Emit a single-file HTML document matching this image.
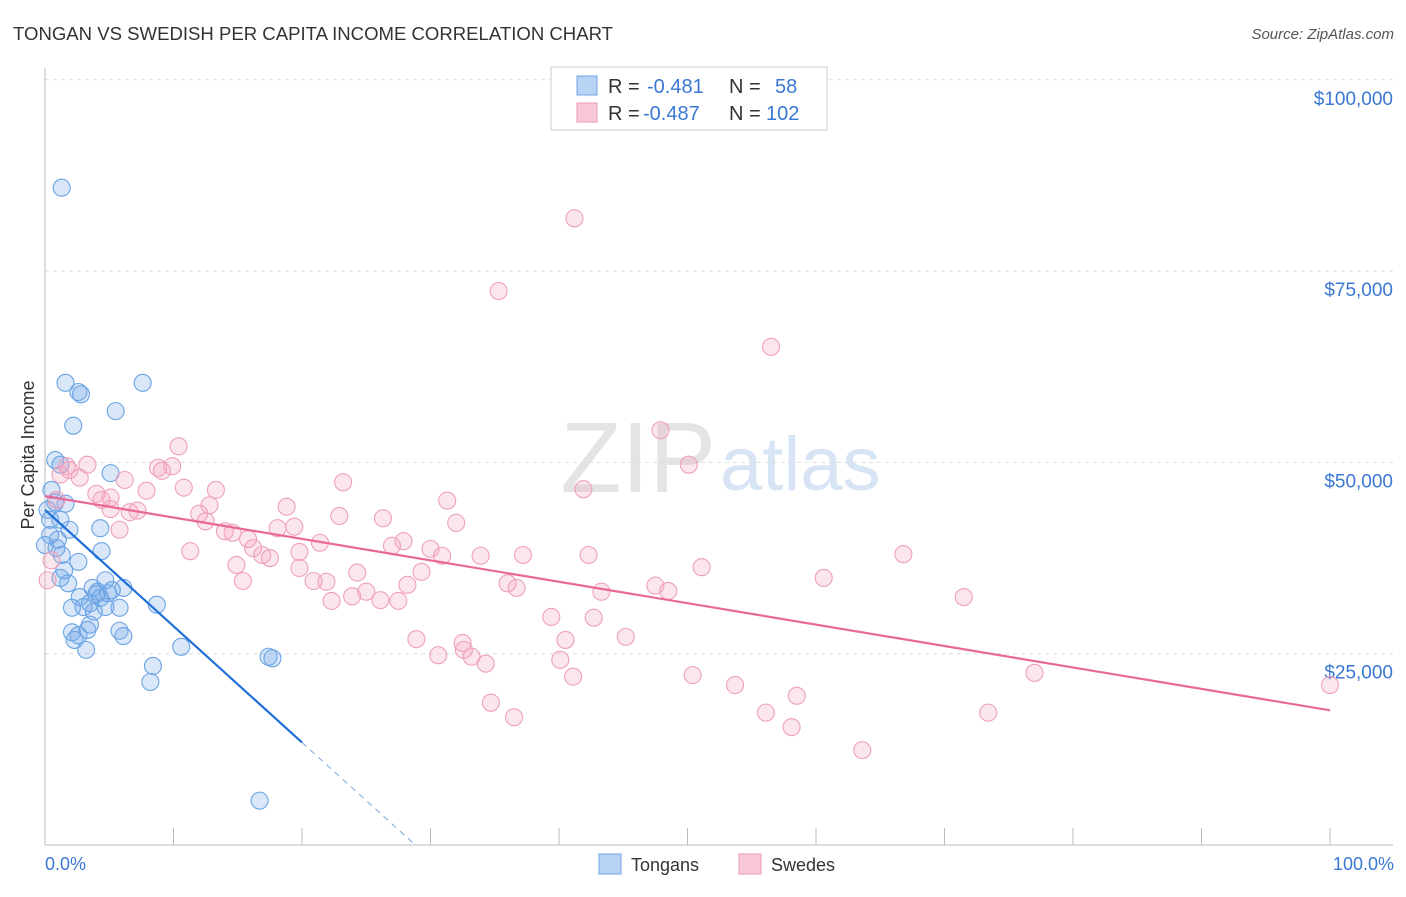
<!DOCTYPE html>
<html><head><meta charset="utf-8">
<style>
body{margin:0;background:#fff;font-family:"Liberation Sans",sans-serif;}
svg text{font-family:"Liberation Sans",sans-serif;}
</style></head>
<body>
<svg id="chart" width="1406" height="892" xmlns="http://www.w3.org/2000/svg">
<text x="13" y="40" font-size="18" fill="#333" textLength="600" lengthAdjust="spacingAndGlyphs">TONGAN VS SWEDISH PER CAPITA INCOME CORRELATION CHART</text>
<text x="1394" y="39" font-size="15" fill="#555" font-style="italic" text-anchor="end">Source: ZipAtlas.com</text>
<text x="716" y="492" font-size="100" fill="#e4e4e4" text-anchor="end" font-family="Liberation Serif">ZIP</text>
<text x="720" y="490" font-size="76" fill="#d6e4f4">atlas</text>
<g id="grid"></g>
<g id="axes"></g>
<g id="pts"></g>
<g id="lines"></g>
<text transform="translate(34,455) rotate(-90)" font-size="18" fill="#333" text-anchor="middle">Per Capita Income</text>
<text x="45" y="870" font-size="18" fill="#3a78d4">0.0%</text>
<text x="1394" y="870" font-size="18" fill="#3a78d4" text-anchor="end">100.0%</text>
<g>
<rect x="551" y="67" width="276" height="63" fill="#fff" stroke="#ccc"/>
<rect x="577" y="76" width="20" height="19" fill="#b8d3f4" stroke="#6fa3e4"/>
<rect x="577" y="103" width="20" height="19" fill="#f9c8d6" stroke="#eb9ab4"/>
<text x="608" y="93" font-size="20" fill="#333">R = </text><text x="647" y="93" font-size="20" fill="#3a78d4">-0.481</text>
<text x="729" y="93" font-size="20" fill="#333">N = </text><text x="775" y="93" font-size="20" fill="#3a78d4">58</text>
<text x="608" y="120" font-size="20" fill="#333">R = </text><text x="643" y="120" font-size="20" fill="#3a78d4">-0.487</text>
<text x="729" y="120" font-size="20" fill="#333">N = </text><text x="766" y="120" font-size="20" fill="#3a78d4">102</text>
</g>
<g>
<rect x="599" y="854" width="22" height="20" fill="#b8d3f4" stroke="#6fa3e4"/>
<text x="631" y="871" font-size="18" fill="#333">Tongans</text>
<rect x="739" y="854" width="22" height="20" fill="#f9c8d6" stroke="#eb9ab4"/>
<text x="771" y="871" font-size="18" fill="#333">Swedes</text>
</g>
</svg>
<script>
const yTicks=[25,50,75,100];
const yTickLabels=["$25,000","$50,000","$75,000","$100,000"];
const blueX=[1.3,1.6,2.6,2.8,7.6,5.5,2.2,5.1,1.2,4.3,0.5,0.2,0.8,1.6,1.2,0.4,1.0,1.9,0.9,4.4,2.6,1.5,1.2,1.8,2.7,3.7,4.3,4.7,6.1,2.1,3.0,3.8,3.5,5.8,8.7,4.1,2.1,2.6,3.3,5.8,6.1,3.2,10.6,8.4,8.2,17.4,17.7,16.7,0.8,0.4,1.3,0.0,4.0,4.7,3.5,2.3,4.9,5.2];
const blueY=[85.9,60.4,59.2,58.9,60.4,56.7,54.8,48.6,49.7,41.4,46.4,43.8,44.8,44.6,42.5,42.5,39.9,41.2,38.8,38.4,37.0,35.9,34.9,34.2,32.4,33.6,32.3,34.6,33.6,31.0,31.1,30.5,31.6,31.0,31.4,33.1,27.8,27.4,28.1,28.0,27.3,25.5,25.9,23.4,21.3,24.6,24.4,5.8,50.3,40.5,37.9,39.2,32.8,31.1,28.8,26.8,32.9,33.3];
const pinkX=[41.2,35.3,56.5,47.9,10.4,50.1,1.7,3.3,8.8,9.9,9.1,1.9,2.7,6.2,7.9,10.8,13.3,23.2,4.0,4.4,5.1,6.6,7.2,5.1,12.8,18.8,31.3,41.9,12.0,12.5,14.0,14.6,5.8,18.1,19.4,22.9,26.3,32.0,15.8,16.2,16.9,17.5,11.3,14.9,15.4,19.8,21.4,27.9,27.0,30.0,30.9,33.9,37.2,42.3,51.1,66.8,19.8,21.9,20.9,24.3,22.3,23.9,25.0,26.1,27.5,28.2,29.3,36.0,36.7,43.3,47.5,48.5,60.6,71.5,39.4,42.7,28.9,32.5,40.5,45.2,30.6,32.6,33.2,34.3,40.1,41.1,50.4,53.7,58.5,34.7,36.5,56.1,58.1,63.6,77.0,100.0,73.4,0.2,0.5,1.2,0.9];
const pinkY=[81.9,72.4,65.1,54.2,52.1,49.7,49.5,49.7,49.3,49.5,48.9,49.0,48.0,47.7,46.3,46.7,46.4,47.4,45.9,45.1,43.9,43.5,43.7,45.4,44.4,44.2,45.0,46.5,43.3,42.3,41.0,40.8,41.2,41.4,41.6,43.0,42.7,42.1,40.0,38.8,37.9,37.5,38.4,36.6,34.5,38.3,39.5,39.7,39.1,38.7,37.8,37.8,37.9,37.9,36.3,38.0,36.2,34.4,34.5,35.6,31.9,32.5,33.1,32.0,31.9,34.0,35.7,34.2,33.6,33.1,33.9,33.2,34.9,32.4,29.8,29.7,26.9,26.4,26.8,27.2,24.8,25.5,24.6,23.7,24.2,22.0,22.2,20.9,19.5,18.6,16.7,17.3,15.4,12.4,22.5,20.9,17.3,34.6,37.2,48.4,45.1];
const blueTrend=[43.8,-1.52];
const pinkTrend=[45.6,-0.28];
const NS="http://www.w3.org/2000/svg";
const X=v=>45+v*12.85, Y=v=>845-v*7.652;
function mk(t,a,p){const e=document.createElementNS(NS,t);for(const k in a)e.setAttribute(k,a[k]);p.appendChild(e);return e;}
const grid=document.getElementById('grid'),axes=document.getElementById('axes'),pts=document.getElementById('pts'),lines=document.getElementById('lines');
yTicks.forEach((t,i)=>{
 const l=mk('line',{x1:45,x2:1393,y1:Y(t),y2:Y(t),stroke:'#ddd','stroke-dasharray':'4,4'},grid);
 
 
 const tx=mk('text',{x:1393,y:Y(t)+25,'font-size':19,fill:'#3a78d4','text-anchor':'end'},grid);
 tx.textContent=yTickLabels[i];
 
 
});
const ax=mk('line',{x1:45,x2:1393,y1:845,y2:845,stroke:'#bbb'},axes);


const ay=mk('line',{x1:45,x2:45,y1:68,y2:845,stroke:'#bbb'},axes);


for(let i=1;i<=10;i++){const t=mk('line',{x1:X(i*10),x2:X(i*10),y1:828,y2:845,stroke:'#bbb'},axes);
 
 }
blueX.forEach((v,i)=>{const c=mk('circle',{cx:X(v),cy:Y(blueY[i]),r:8.5,fill:'rgba(120,170,235,0.28)',stroke:'#6aa4e4','stroke-width':1.1},pts);
 
 });
pinkX.forEach((v,i)=>{const c=mk('circle',{cx:X(v),cy:Y(pinkY[i]),r:8.5,fill:'rgba(245,165,195,0.28)',stroke:'#eea0ba','stroke-width':1.1},pts);
 
 });
const bl=mk('line',{x1:X(0),y1:Y(blueTrend[0]),x2:X(20),y2:Y(blueTrend[0]+20*blueTrend[1]),stroke:'#1f6fd8','stroke-width':2.2},lines);


const xz=-blueTrend[0]/blueTrend[1];
const bd=mk('line',{x1:X(20),y1:Y(blueTrend[0]+20*blueTrend[1]),x2:X(xz),y2:Y(0),stroke:'#7aa6e0','stroke-width':1,'stroke-dasharray':'6,5'},lines);


const pl=mk('line',{x1:X(0),y1:Y(pinkTrend[0]),x2:X(100),y2:Y(pinkTrend[0]+100*pinkTrend[1]),stroke:'#e8689a','stroke-width':2.2},lines);


</script>
</body></html>
